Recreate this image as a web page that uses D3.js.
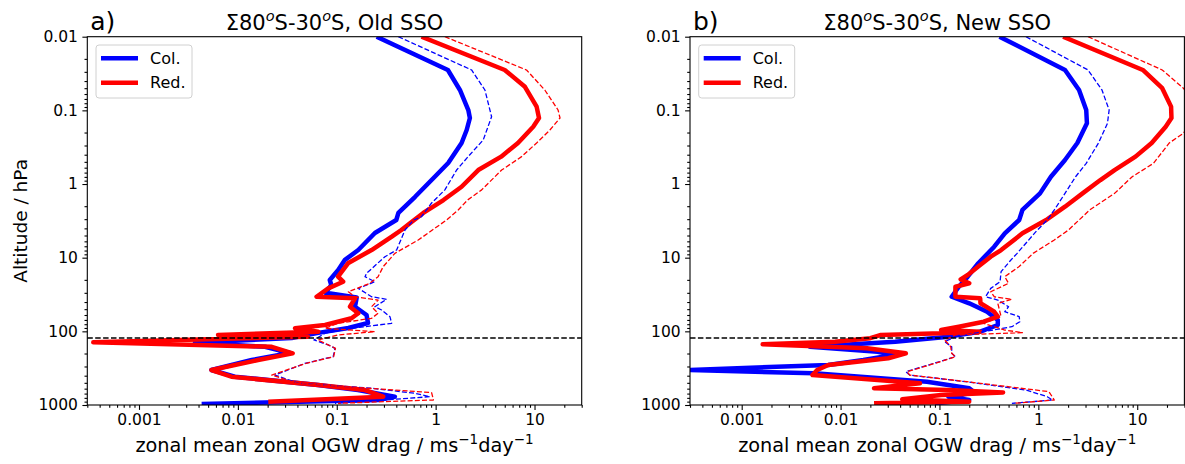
<!DOCTYPE html>
<html>
<head>
<meta charset="utf-8">
<script src="https://cdn.jsdelivr.net/npm/d3@7"></script>
<style>
  body { margin: 0; background: #fff; }
  svg { display: block; }
  text { font-family: "DejaVu Sans", sans-serif; fill: #000; }
</style>
</head>
<body>
<script>
// ---- axis setup ----
const xDomain = [3e-4, 30];
const yDomain = [0.01, 1000];
const xTickValues = [0.001, 0.01, 0.1, 1, 10];
const xTickLabels = ["0.001", "0.01", "0.1", "1", "10"];
const yTickValues = [0.01, 0.1, 1, 10, 100, 1000];
const yTickLabels = ["0.01", "0.1", "1", "10", "100", "1000"];
const tropopauseLevel = 123;           // hPa, dashed reference line
const panelLetters = ["a)", "b)"];
const panelNames = ["Old SSO", "New SSO"];
const legendLabels = ["Col.", "Red."];

// ---- profiles: [pressure hPa, drag m/s/day] ----
// panel a) old SSO
const oldCol = [[0.01,0.253],[0.0283,1.33],[0.0529,1.76],[0.0989,2.14],[0.127,2.22],[0.185,2.06],[0.277,1.83],[0.519,1.34],[0.796,0.98],[1.49,0.62],[2.47,0.42],[3.08,0.40],[4.62,0.243],[7.87,0.165],[10.7,0.121],[14.7,0.1035],[20.1,0.085],[23.5,0.088],[30,0.077],[34.8,0.159],[46.3,0.153],[60,0.2],[77.1,0.207],[90.2,0.131],[105,0.065],[123,0.035],[143,0.00368],[162,0.0188],[197,0.0337],[245,0.0138],[335,0.0054],[413,0.0093],[535,0.0645],[626,0.164],[771,0.387],[855,0.261],[969,0.0043]];
const oldRed = [[0.01,0.72],[0.0283,5.0],[0.0479,8.0],[0.089,10.5],[0.127,11.1],[0.167,9.7],[0.277,6.8],[0.425,4.6],[0.646,2.7],[1.09,1.83],[1.65,1.2],[2.47,0.75],[3.4,0.55],[4.21,0.45],[5.19,0.36],[7.87,0.225],[11.8,0.131],[18.1,0.103],[21.2,0.116],[26.1,0.082],[33.9,0.0625],[35.6,0.153],[46.3,0.136],[56.9,0.165],[66.5,0.141],[82,0.076],[91,0.0378],[101,0.065],[112,0.0063],[118,0.051],[141,0.000345],[162,0.022],[199,0.0358],[245,0.016],[335,0.0054],[413,0.0086],[535,0.065],[626,0.193],[771,0.295],[902,0.0203]];
const oldColDashed = [[0.01,0.419],[0.0283,2.31],[0.0529,3.15],[0.122,3.68],[0.252,3.03],[0.425,2.13],[0.646,1.63],[1.2,1.24],[1.81,0.91],[2.78,0.72],[3.08,0.6],[4.21,0.49],[7.87,0.403],[9.7,0.307],[16.3,0.2],[18.1,0.193],[21.2,0.243],[26.1,0.165],[33.9,0.225],[36.7,0.319],[46.3,0.243],[51.3,0.284],[63.2,0.345],[77.8,0.359],[91,0.141],[106,0.076],[131,0.0587],[153,0.082],[170,0.096],[221,0.092],[272,0.0476],[392,0.0237],[507,0.041],[593,0.225],[693,0.617],[771,0.875],[855,0.307],[949,0.096]];
const oldRedDashed = [[0.01,1.24],[0.0283,8.3],[0.0529,12.7],[0.0989,17.3],[0.127,18.1],[0.185,14.3],[0.277,10.5],[0.425,7.4],[0.646,4.65],[1.2,2.92],[1.65,2.1],[2.25,1.69],[3.08,1.29],[5.75,0.667],[8.73,0.387],[13.2,0.295],[18.1,0.262],[22.3,0.216],[29,0.131],[33.9,0.153],[37.6,0.262],[46.3,0.225],[56.9,0.262],[66.5,0.225],[77.8,0.103],[91,0.076],[101,0.243],[112,0.103],[131,0.0645],[153,0.082],[170,0.097],[221,0.093],[272,0.049],[392,0.022],[507,0.04],[593,0.21],[678,0.91],[855,0.95],[949,0.103]];

// panel b) new SSO
const newCol = [[0.01,0.405],[0.0283,1.86],[0.0529,2.58],[0.0989,3.05],[0.15,3.1],[0.277,2.48],[0.472,1.86],[0.796,1.34],[1.34,1.04],[2.25,0.69],[3.08,0.64],[4.67,0.458],[7.1,0.358],[11.9,0.247],[18.1,0.193],[24.8,0.157],[33.9,0.133],[41.6,0.2],[54.1,0.303],[70.2,0.389],[82,0.389],[101,0.258],[118,0.123],[138,0.0357],[162,0.0049],[189,0.0237],[209,0.0343],[245,0.017],[286,0.0075],[335,0.00028],[371,0.0054],[483,0.0748],[593,0.2],[675,0.227],[771,0.123],[855,0.2],[949,0.09]];
const newRed = [[0.01,1.78],[0.0283,11.4],[0.05,17.9],[0.089,22.0],[0.127,22.2],[0.167,19.4],[0.277,14.0],[0.425,9.6],[0.646,5.9],[0.883,4.24],[1.34,2.8],[2.03,1.86],[3.08,1.2],[4.67,0.69],[7.87,0.42],[9.7,0.33],[13.2,0.247],[17.2,0.193],[19.7,0.164],[22.3,0.2],[24.8,0.145],[33.9,0.145],[35.6,0.258],[41.6,0.26],[54.1,0.358],[63.2,0.389],[74,0.28],[86.5,0.157],[96,0.104],[101,0.258],[106,0.104],[112,0.0256],[124,0.02],[138,0.0088],[150,0.00163],[170,0.0185],[199,0.0457],[232,0.0303],[286,0.0075],[335,0.0058],[392,0.0052],[458,0.0237],[507,0.0635],[593,0.0218],[626,0.123],[675,0.44],[731,0.104],[838,0.042],[902,0.2],[949,0.0218]];
const newColDashed = [[0.01,0.75],[0.0283,3.18],[0.0529,4.4],[0.0989,5.2],[0.15,5.0],[0.277,4.06],[0.524,3.05],[0.796,2.38],[1.34,1.86],[2.25,1.45],[3.08,1.23],[4.4,0.95],[8.73,0.61],[11,0.52],[15.5,0.42],[21.2,0.41],[26.1,0.33],[33.9,0.293],[37.6,0.389],[46.3,0.5],[54.1,0.458],[63.2,0.64],[74,0.65],[86.5,0.54],[101,0.28],[118,0.145],[138,0.113],[162,0.133],[199,0.133],[221,0.145],[272,0.088],[353,0.0457],[392,0.05],[483,0.185],[626,0.75],[771,1.23],[855,1.39],[949,0.54]];
const newRedDashed = [[0.01,3.18],[0.0283,17.9],[0.05,29.3],[0.0989,42],[0.205,29.3],[0.277,21.1],[0.524,14.6],[0.796,8.9],[1.34,5.9],[2.25,3.3],[4.21,2.02],[5.75,1.45],[8.73,0.885],[13.2,0.64],[18.1,0.458],[22.3,0.5],[29,0.33],[33.9,0.358],[36.7,0.54],[41.6,0.389],[63.2,0.42],[77.8,0.28],[96,0.458],[104,0.69],[112,0.145],[131,0.113],[162,0.13],[199,0.133],[221,0.145],[272,0.09],[353,0.047],[392,0.05],[483,0.19],[659,1.28],[855,1.45],[949,0.57]];

const panelSeries = [
  { col: oldCol, red: oldRed, colDashed: oldColDashed, redDashed: oldRedDashed },
  { col: newCol, red: newRed, colDashed: newColDashed, redDashed: newRedDashed }
];

// ---- layout ----
const W = 1185, H = 464;
const plotTop = 36.7, plotBottom = 405, plotWidth = 494.4;
const panelLefts = [87.3, 690];
const BLUE = "#0000ff", RED = "#ff0000";

const svg = d3.select("body").append("svg").attr("width", W).attr("height", H);

// minor tick values (2..9 x 10^k) inside a domain
function minorTicks(domain) {
  const out = [];
  for (let k = Math.floor(Math.log10(domain[0])); k <= Math.ceil(Math.log10(domain[1])); k++) {
    for (let m = 2; m <= 9; m++) {
      const v = m * Math.pow(10, k);
      if (v >= domain[0] * 0.999 && v <= domain[1] * 1.001) out.push(v);
    }
  }
  return out;
}

panelLefts.forEach((left, i) => {
  const x = d3.scaleLog().domain(xDomain).range([left, left + plotWidth]);
  const y = d3.scaleLog().domain(yDomain).range([plotTop, plotBottom]);
  const g = svg.append("g");

  const clipId = "clip" + i;
  svg.append("defs").append("clipPath").attr("id", clipId)
    .append("rect").attr("x", left).attr("y", plotTop)
    .attr("width", plotWidth).attr("height", plotBottom - plotTop);

  const line = d3.line().x(d => x(d[1])).y(d => y(d[0]));
  const s = panelSeries[i];
  const lines = g.append("g").attr("clip-path", `url(#${clipId})`).attr("fill", "none")
    .attr("stroke-linejoin", "round");

  lines.append("path").datum(s.col).attr("d", line).attr("stroke", BLUE).attr("stroke-width", 4.5);
  lines.append("path").datum(s.red).attr("d", line).attr("stroke", RED).attr("stroke-width", 4.5);
  lines.append("path").datum(s.colDashed).attr("d", line).attr("stroke", BLUE).attr("stroke-width", 1.3)
    .attr("stroke-dasharray", "5,2.2");
  lines.append("path").datum(s.redDashed).attr("d", line).attr("stroke", RED).attr("stroke-width", 1.3)
    .attr("stroke-dasharray", "5,2.2");

  // tropopause reference
  g.append("line").attr("x1", left).attr("x2", left + plotWidth)
    .attr("y1", y(tropopauseLevel)).attr("y2", y(tropopauseLevel))
    .attr("stroke", "#000").attr("stroke-width", 1.4).attr("stroke-dasharray", "5.5,2.4");

  // axes
  const yAxis = d3.axisLeft(y).tickValues(yTickValues)
    .tickFormat((d, j) => yTickLabels[j]).tickSize(4.9).tickPadding(4.5);
  const yMinor = d3.axisLeft(y).tickValues(minorTicks(yDomain)).tickFormat("").tickSize(2.8);
  const xAxis = d3.axisBottom(x).tickValues(xTickValues)
    .tickFormat((d, j) => xTickLabels[j]).tickSize(4.9).tickPadding(4.5);
  const xMinor = d3.axisBottom(x).tickValues(minorTicks(xDomain)).tickFormat("").tickSize(2.8);

  [[yAxis, `translate(${left},0)`], [yMinor, `translate(${left},0)`],
   [xAxis, `translate(0,${plotBottom})`], [xMinor, `translate(0,${plotBottom})`]].forEach(([ax, tr]) => {
    const a = g.append("g").attr("transform", tr).call(ax);
    a.select(".domain").remove();
    a.selectAll(".tick line").attr("stroke", "#000").attr("stroke-width", 1.1);
    a.selectAll(".tick text").attr("font-size", "15.5px").attr("font-family", "DejaVu Sans").attr("fill", "#000");
  });

  // frame
  g.append("rect").attr("x", left).attr("y", plotTop).attr("width", plotWidth)
    .attr("height", plotBottom - plotTop).attr("fill", "none")
    .attr("stroke", "#000").attr("stroke-width", 1.1);

  // legend
  const lg = g.append("g").attr("transform", `translate(${left + 8.7},${plotTop + 8.3})`);
  lg.append("rect").attr("width", 96).attr("height", 53).attr("rx", 3)
    .attr("fill", "#fff").attr("fill-opacity", 0.8).attr("stroke", "#d0d0d0").attr("stroke-width", 1);
  [BLUE, RED].forEach((c, j) => {
    const yy = 13.3 + j * 24.4;
    lg.append("line").attr("x1", 5).attr("x2", 42).attr("y1", yy).attr("y2", yy)
      .attr("stroke", c).attr("stroke-width", 4.5);
    lg.append("text").attr("x", 54).attr("y", yy + 5.7).attr("font-size", "16px").text(legendLabels[j]);
  });

  // titles
  g.append("text").attr("x", left + 3).attr("y", 30).attr("font-size", "25px").text(panelLetters[i]);
  const t = g.append("text").attr("x", left + plotWidth / 2).attr("y", 29.5)
    .attr("text-anchor", "middle").attr("font-size", "21px");
  t.append("tspan").text("Σ80");
  t.append("tspan").attr("font-size", "14.5px").attr("dy", -8.5).attr("font-style", "italic").text("o");
  t.append("tspan").attr("dy", 8.5).text("S-30");
  t.append("tspan").attr("font-size", "14.5px").attr("dy", -8.5).attr("font-style", "italic").text("o");
  t.append("tspan").attr("dy", 8.5).text("S, " + panelNames[i]);

  // x label
  const xl = g.append("text").attr("x", left + plotWidth / 2).attr("y", 452)
    .attr("text-anchor", "middle").attr("font-size", "19.3px");
  xl.append("tspan").text("zonal mean zonal OGW drag / ms");
  xl.append("tspan").attr("font-size", "13.5px").attr("dy", -8).text("−1");
  xl.append("tspan").attr("dy", 8).text("day");
  xl.append("tspan").attr("font-size", "13.5px").attr("dy", -8).text("−1");
});

// y label (left panel only)
svg.append("text").attr("transform", `translate(26.5,${(plotTop + plotBottom) / 2}) rotate(-90)`)
  .attr("text-anchor", "middle").attr("font-size", "18.5px").text("Altitude / hPa");
</script>
</body>
</html>
